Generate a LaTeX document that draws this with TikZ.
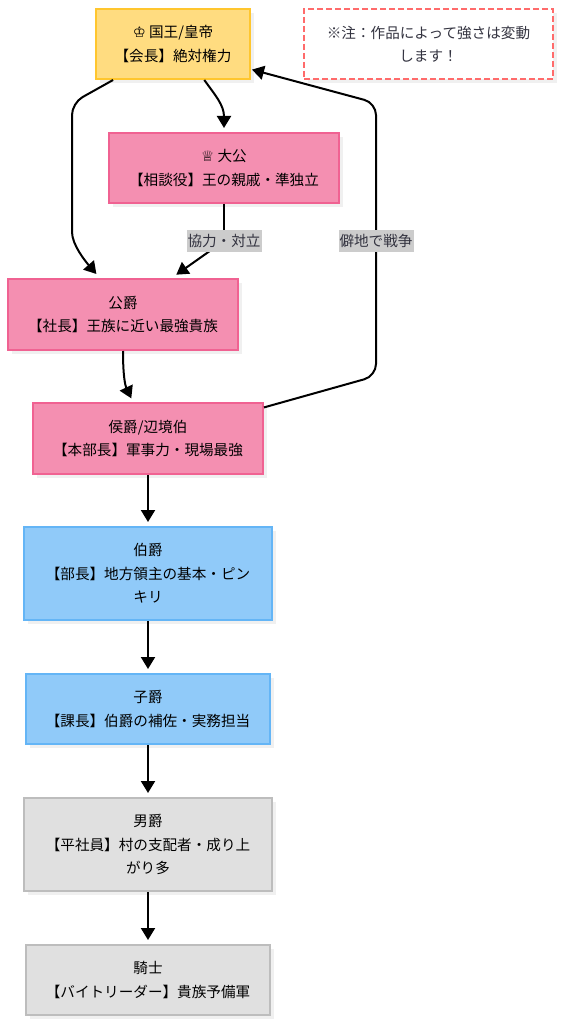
\documentclass[tikz,border=0pt]{standalone}
\usepackage{fontspec}
\setmainfont{Noto Sans CJK JP}
\newfontfamily\symfont{DejaVu Sans}
\usetikzlibrary{arrows.meta,shadows,calc}
\definecolor{kingfill}{HTML}{FFDC80}
\definecolor{kingline}{HTML}{FFC62E}
\definecolor{pinkfill}{HTML}{F48FB1}
\definecolor{pinkline}{HTML}{F06292}
\definecolor{bluefill}{HTML}{90CAF9}
\definecolor{blueline}{HTML}{64B5F6}
\definecolor{grayfill}{HTML}{E0E0E0}
\definecolor{grayline}{HTML}{BDBDBD}
\definecolor{notered}{HTML}{FF6B6B}
\definecolor{inkc}{HTML}{333340}
\tikzset{
  x=1pt,y=-1pt,
  boxbase/.style={draw,line width=2pt,align=center,inner sep=0pt,text=black,
    font=\fontsize{14.6pt}{23.4pt}\selectfont,
    drop shadow={shadow xshift=4pt,shadow yshift=-4pt,fill=black,opacity=0.06}},
  kingbox/.style={boxbase,fill=kingfill,draw=kingline},
  pinkbox/.style={boxbase,fill=pinkfill,draw=pinkline},
  bluebox/.style={boxbase,fill=bluefill,draw=blueline},
  graybox/.style={boxbase,fill=grayfill,draw=grayline},
  notebox/.style={boxbase,fill=white,draw=notered,dash pattern=on 6pt off 3pt,text=inkc},
  edgelabel/.style={fill=black!20,inner xsep=1pt,inner ysep=0pt,text=inkc,minimum height=22pt,
    font=\fontsize{14.6pt}{16pt}\selectfont},
  conn/.style={draw=black,line width=2pt,rounded corners=12pt,shorten >=4pt,
    -{Stealth[inset=0pt,length=12pt,width=14pt]}},
  plain/.style={draw=black,line width=2pt,rounded corners=12pt},
}
\begin{document}
\begin{tikzpicture}
\useasboundingbox[fill=white] (0,0) rectangle (560,1024);
\node[kingbox,minimum width=154pt,minimum height=70pt] (king) at (173,44) {{\symfont\char"2654} 国王/皇帝\\【会長】絶対権力};
\node[notebox,minimum width=249pt,minimum height=70pt] (note) at (428.5,44) {※注：作品によって強さは変動\\します！};
\node[pinkbox,minimum width=230pt,minimum height=70pt] (taikou) at (224,168) {{\symfont\char"2655} 大公\\【相談役】王の親戚・準独立};
\node[pinkbox,minimum width=230pt,minimum height=71pt] (duke) at (123,314.5) {公爵\\【社長】王族に近い最強貴族};
\node[pinkbox,minimum width=230pt,minimum height=71pt] (marquis) at (148,438.5) {侯爵/辺境伯\\【本部長】軍事力・現場最強};
\node[bluebox,minimum width=248pt,minimum height=93pt] (count) at (148,573.5) {伯爵\\【部長】地方領主の基本・ピン\\キリ};
\node[bluebox,minimum width=244pt,minimum height=70pt] (viscount) at (148,709) {子爵\\【課長】伯爵の補佐・実務担当};
\node[graybox,minimum width=248pt,minimum height=93pt] (baron) at (148,844.5) {男爵\\【平社員】村の支配者・成り上\\がり多};
\node[graybox,minimum width=244pt,minimum height=70pt] (knight) at (148,980) {騎士\\【バイトリーダー】貴族予備軍};
% label anchor points
\coordinate (labA) at (224,241);
\coordinate (labB) at (376,241);
\draw[conn] (king.-49) .. controls (215,95) and (224,105) .. (taikou.north);
\draw[conn] (king.211) -- (72,103) -- (72,220) .. controls (72,245) and (86,262) .. ($(duke.north west)+(92,-1)$);
\draw[plain] (taikou.south) -- (labA);
\draw[conn] (labA) -- ($(duke.north)+(50,-1)$);
\draw[conn] (duke.south) .. controls (123,375) and (125,385) .. (marquis.north-|133,0);
\draw[plain] (marquis.15) -- (376,376) -- (labB);
\draw[conn,shorten >=1pt] (labB) -- (376,103) -- (king.-18);
\draw[conn] (marquis.south) -- (count.north);
\draw[conn] (count.south) -- (viscount.north);
\draw[conn] (viscount.south) -- (baron.north);
\draw[conn] (baron.south) -- (knight.north);
\node[edgelabel] (la) at (labA) {協力・対立};
\node[edgelabel] (lb) at (labB) {僻地で戦争};
\end{tikzpicture}
\end{document}
